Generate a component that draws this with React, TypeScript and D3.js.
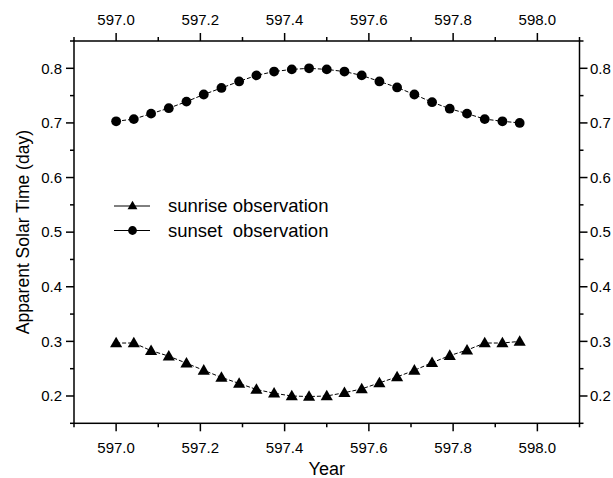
import React from "react";
import * as d3 from "d3";

const years = [
  597.0, 597.042, 597.083, 597.125, 597.167, 597.208, 597.25, 597.292,
  597.333, 597.375, 597.417, 597.458, 597.5, 597.542, 597.583, 597.625,
  597.667, 597.708, 597.75, 597.792, 597.833, 597.875, 597.917, 597.958,
];
const sunrise = [
  0.297, 0.297, 0.283, 0.273, 0.26, 0.247, 0.234, 0.223, 0.212, 0.205, 0.2,
  0.199, 0.2, 0.206, 0.213, 0.224, 0.235, 0.247, 0.261, 0.274, 0.284, 0.297,
  0.297, 0.3,
];
const sunset = [
  0.703, 0.707, 0.717, 0.727, 0.739, 0.752, 0.764, 0.776, 0.787, 0.794, 0.798,
  0.8, 0.798, 0.794, 0.787, 0.776, 0.765, 0.752, 0.738, 0.726, 0.717, 0.707,
  0.703, 0.7,
];
const xMajor = [597.0, 597.2, 597.4, 597.6, 597.8, 598.0];
const xMinor = [596.9, 597.1, 597.3, 597.5, 597.7, 597.9, 598.1];
const yMajor = [0.2, 0.3, 0.4, 0.5, 0.6, 0.7, 0.8];
const yMinor = [0.15, 0.25, 0.35, 0.45, 0.55, 0.65, 0.75, 0.85];
const seriesNames = ["sunrise observation", "sunset  observation"];

const W = 613;
const H = 478;
const L = 74;
const R = 579.5;
const T = 41;
const B = 423.3;
const FONT = "'Liberation Sans', Arial, Helvetica, sans-serif";

export default function App() {
  const x = d3.scaleLinear().domain([596.9, 598.1]).range([L, R]);
  const y = d3.scaleLinear().domain([0.15, 0.85]).range([B, T]);
  const pts = (vals: number[]) => years.map((yr, i) => [x(yr), y(vals[i])] as [number, number]);
  const line = d3.line<[number, number]>();
  const tri = d3.symbol().type(d3.symbolTriangle).size(64)();
  const triSmall = d3.symbol().type(d3.symbolTriangle).size(42)();
  const majorLen = 8;
  const minorLen = 4;

  return (
    <svg
      width={W}
      height={H}
      style={{ position: "absolute", left: 0, top: 0, background: "#fff" }}
      fontFamily={FONT}
    >
      <rect x={0} y={0} width={W} height={H} fill="#fff" />
      {/* series lines */}
      {[sunrise, sunset].map((s, k) => (
        <path
          key={k}
          d={line(pts(s)) || ""}
          fill="none"
          stroke="#000"
          strokeWidth={1}
          strokeDasharray="4,2"
        />
      ))}
      {pts(sunrise).map(([px, py], i) => (
        <path key={"t" + i} d={tri || ""} transform={`translate(${px},${py + 0.8})`} fill="#000" />
      ))}
      {pts(sunset).map(([px, py], i) => (
        <circle key={"c" + i} cx={px} cy={py} r={4.9} fill="#000" />
      ))}

      {/* frame */}
      <rect x={L} y={T} width={R - L} height={B - T} fill="none" stroke="#000" strokeWidth={1.5} />

      {/* x ticks */}
      {xMajor.map((v) => (
        <g key={"xm" + v}>
          <line x1={x(v)} x2={x(v)} y1={B} y2={B + majorLen} stroke="#000" strokeWidth={1.5} />
          <line x1={x(v)} x2={x(v)} y1={T} y2={T - majorLen} stroke="#000" strokeWidth={1.5} />
          <text x={x(v)} y={453} fontSize={15} textAnchor="middle">{v.toFixed(1)}</text>
          <text x={x(v)} y={25} fontSize={15} textAnchor="middle">{v.toFixed(1)}</text>
        </g>
      ))}
      {xMinor.map((v) => (
        <g key={"xn" + v}>
          <line x1={x(v)} x2={x(v)} y1={B} y2={B + minorLen} stroke="#000" strokeWidth={1.5} />
          <line x1={x(v)} x2={x(v)} y1={T} y2={T - minorLen} stroke="#000" strokeWidth={1.5} />
        </g>
      ))}
      {/* y ticks */}
      {yMajor.map((v) => (
        <g key={"ym" + v}>
          <line x1={L} x2={L - majorLen} y1={y(v)} y2={y(v)} stroke="#000" strokeWidth={1.5} />
          <line x1={R} x2={R + majorLen} y1={y(v)} y2={y(v)} stroke="#000" strokeWidth={1.5} />
          <text x={62} y={y(v) + 5.3} fontSize={15} textAnchor="end">{v.toFixed(1)}</text>
          <text x={590} y={y(v) + 5.3} fontSize={15} textAnchor="start">{v.toFixed(1)}</text>
        </g>
      ))}
      {yMinor.map((v) => (
        <g key={"yn" + v}>
          <line x1={L} x2={L - minorLen} y1={y(v)} y2={y(v)} stroke="#000" strokeWidth={1.5} />
          <line x1={R} x2={R + minorLen} y1={y(v)} y2={y(v)} stroke="#000" strokeWidth={1.5} />
        </g>
      ))}

      {/* axis titles */}
      <text x={(L + R) / 2} y={475} fontSize={18} textAnchor="middle">Year</text>
      <text
        transform={`translate(29,${(T + B) / 2}) rotate(-90)`}
        fontSize={17.5}
        textAnchor="middle"
      >
        Apparent Solar Time (day)
      </text>

      {/* legend */}
      {seriesNames.map((name, i) => {
        const ly = 206 + i * 24.5;
        return (
          <g key={"lg" + i}>
            <line x1={114} x2={150} y1={ly} y2={ly} stroke="#000" strokeWidth={1} />
            {i === 0 ? (
              <path d={triSmall || ""} transform={`translate(132.5,${ly + 0.5})`} fill="#000" />
            ) : (
              <circle cx={132.5} cy={ly} r={4.4} fill="#000" />
            )}
            <text x={168} y={ly + 6.3} fontSize={18.5} style={{ whiteSpace: "pre" }} xmlSpace="preserve">
              {name}
            </text>
          </g>
        );
      })}
    </svg>
  );
}
